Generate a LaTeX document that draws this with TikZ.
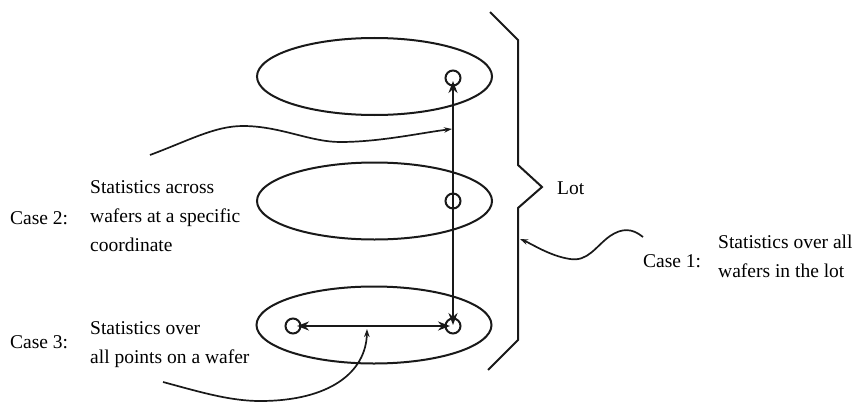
\documentclass[tikz,border=0pt]{standalone}
\usepackage{fontspec}
\setmainfont{Liberation Serif}
\usetikzlibrary{shapes.geometric,arrows.meta}
\tikzset{
  ln/.style={line width=2pt, draw=black!90},
  wafer/.style={ln, ellipse, minimum width=235pt, minimum height=77pt, inner sep=0pt},
  spot/.style={ln, circle, minimum size=15pt, inner sep=0pt},
  bigarrow/.style={ln, {Stealth[length=12pt,width=9pt]}-{Stealth[length=12pt,width=9pt]}},
  smallarrow/.style={line width=1.7pt, draw=black!90, -{Stealth[length=8pt,width=5.5pt]}},
  lbl/.style={inner sep=0pt, font=\fontsize{19.5}{29}\selectfont, align=left, anchor=west},
}
\begin{document}
\begin{tikzpicture}[x=1pt,y=-1pt]
\useasboundingbox (0,0) rectangle (861,404);
% wafers
\node[wafer] (w1) at (374.5,76.5) {};
\node[wafer] (w2) at (374.5,201) {};
\node[wafer] (w3) at (374,325) {};
% coordinate spots
\node[spot] (ct) at (453,78) {};
\node[spot] (cm) at (453,201) {};
\node[spot] (cr) at (453,326) {};
\node[spot] (cl) at (293,326) {};
% arrows between spots
\draw[bigarrow, shorten <=1pt, shorten >=3pt] (cr.center) -- (ct.center);
\draw[bigarrow, shorten <=4pt, shorten >=3pt] (cl.center) -- (cr.center);
% brace
\coordinate (b1) at (490,12);
\coordinate (b2) at (518,40);
\coordinate (b3) at (518,165);
\coordinate (btip) at (542,187);
\coordinate (b4) at (518,208);
\coordinate (b5) at (518,340);
\coordinate (b6) at (488,370);
\draw[ln, line join=miter] (b1) -- (b2) -- (b3) -- (btip) -- (b4) -- (b5) -- (b6);
% labels
\node[lbl] (lot) at (557,188) {Lot};
\node[lbl] (case2) at (10,218) {Case 2:};
\node[lbl] (t2) at (90,216) {Statistics across\\wafers at a specific\\coordinate};
\node[lbl] (case3) at (10,342) {Case 3:};
\node[lbl] (t3) at (90,345) {Statistics over\\all points on a wafer};
\node[lbl] (case1) at (643,261) {Case 1:};
\node[lbl] (t1) at (718,256) {Statistics over all\\wafers in the lot};
% pointer curves
\coordinate (s2) at (150,155);
\coordinate (e2) at (452,129);
\draw[smallarrow] (s2) .. controls (190,140) and (215,126) .. (243,126)
  .. controls (280,126) and (310,142) .. (340,142)
  .. controls (380,142) and (420,133) .. (e2);
\coordinate (s3) at (163,382);
\coordinate (e3) at (367,329);
\draw[smallarrow] (s3) .. controls (200,392) and (230,401) .. (260,401)
  .. controls (330,401) and (366,372) .. (e3);
\coordinate (s1) at (643,237);
\coordinate (e1) at (520,239);
\draw[smallarrow] (s1) .. controls (632,228) and (622,228) .. (610,236)
  .. controls (596,246) and (588,262) .. (570,259)
  .. controls (550,256) and (532,244) .. (e1);
\end{tikzpicture}
\end{document}
